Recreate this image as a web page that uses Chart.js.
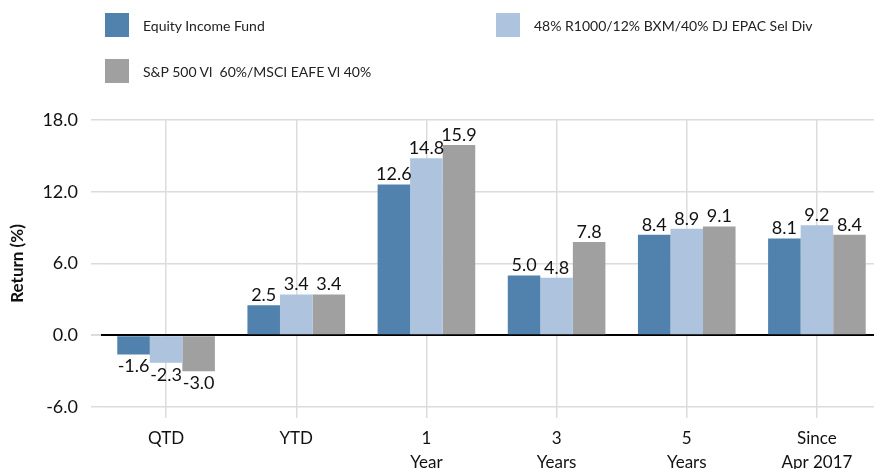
<!DOCTYPE html>
<html>
<head>
<meta charset="utf-8">
<script src="https://cdn.jsdelivr.net/npm/chart.js@4/dist/chart.umd.min.js"></script>
<style>
  body { margin: 0; overflow: hidden; background: #fff; }
  #wrap { position: relative; width: 874px; height: 469px; overflow: hidden; }
  #returnsChart { position: absolute; left: 0; top: 0; }
  .legend-item { position: absolute; display: flex; align-items: center; font-family: Lato, sans-serif; font-size: 14px; color: #222; white-space: pre; }
  .legend-item span.box { display: inline-block; width: 24px; height: 24px; margin-right: 14px; }
</style>
</head>
<body>
<div id="wrap">
  <canvas id="returnsChart" width="882" height="469"></canvas>
  <div id="legend"></div>
</div>
<script>
const periods = [['QTD'], ['YTD'], ['1', 'Year'], ['3', 'Years'], ['5', 'Years'], ['Since', 'Apr 2017']];
const seriesNames = ['Equity Income Fund', '48% R1000/12% BXM/40% DJ EPAC Sel Div', 'S&P 500 Vl  60%/MSCI EAFE Vl 40%'];
const fundReturns = [-1.6, 2.5, 12.6, 5.0, 8.4, 8.1];
const blendReturns = [-2.3, 3.4, 14.8, 4.8, 8.9, 9.2];
const valueReturns = [-3.0, 3.4, 15.9, 7.8, 9.1, 8.4];
const seriesColors = ['#5181ad', '#adc3de', '#a0a0a0'];
const yTicks = [-6, 0, 6, 12, 18];

const FONT = 'Lato, sans-serif';

// value labels above (or below, for negatives) each bar
const valueLabels = {
  id: 'valueLabels',
  afterDatasetsDraw(chart) {
    const ctx = chart.ctx;
    ctx.save();
    ctx.font = '18px ' + FONT;
    ctx.fillStyle = '#111';
    ctx.textAlign = 'center';
    chart.data.datasets.forEach((ds, i) => {
      chart.getDatasetMeta(i).data.forEach((bar, j) => {
        const v = ds.data[j];
        if (v < 0) {
          ctx.textBaseline = 'top';
          ctx.fillText(v.toFixed(1), bar.x, bar.y + 3);
        } else {
          ctx.textBaseline = 'bottom';
          ctx.fillText(v.toFixed(1), bar.x, bar.y - 1);
        }
      });
    });
    ctx.restore();
  }
};

const chart = new Chart(document.getElementById('returnsChart').getContext('2d'), {
  type: 'bar',
  data: {
    labels: periods,
    datasets: [
      { label: seriesNames[0], data: fundReturns, backgroundColor: seriesColors[0] },
      { label: seriesNames[1], data: blendReturns, backgroundColor: seriesColors[1] },
      { label: seriesNames[2], data: valueReturns, backgroundColor: seriesColors[2] }
    ]
  },
  options: {
    responsive: false,
    animation: false,
    layout: { padding: { top: 120, right: 0, bottom: 0, left: 0 } },
    datasets: { bar: { barPercentage: 1, categoryPercentage: 0.75 } },
    plugins: { legend: { display: false }, tooltip: { enabled: false } },
    scales: {
      x: {
        grid: { offset: false, color: '#dcdcdc', lineWidth: 1.5, tickLength: 11 },
        border: { display: false },
        ticks: { color: '#111', padding: 8, font: { family: FONT, size: 17, lineHeight: 1.42 }, maxRotation: 0 },
        afterFit(axis) { axis.height = 62; }
      },
      y: {
        min: -6,
        max: 18,
        afterBuildTicks(axis) { axis.ticks = yTicks.map(v => ({ value: v })); },
        grid: {
          color: c => c.tick && c.tick.value === 0 ? '#000' : '#dcdcdc',
          lineWidth: c => c.tick && c.tick.value === 0 ? 2 : 1.5,
          tickColor: '#dcdcdc',
          tickLength: 10
        },
        border: { display: false },
        ticks: { color: '#111', padding: 13, font: { family: FONT, size: 18 }, callback: v => v.toFixed(1) },
        title: { display: true, text: 'Return (%)', color: '#111', padding: { top: 7, bottom: 0 }, font: { family: FONT, size: 17, weight: 'bold' } },
        afterFit(axis) { axis.width = 101; }
      }
    }
  },
  plugins: [valueLabels]
});

// legend laid out in two columns above the plot
const legendSpots = [[105, 13], [496, 13], [105, 59]];
const legendEl = document.getElementById('legend');
chart.data.datasets.forEach((ds, i) => {
  const item = document.createElement('div');
  item.className = 'legend-item';
  item.style.left = legendSpots[i][0] + 'px';
  item.style.top = legendSpots[i][1] + 'px';
  item.innerHTML = '<span class="box" style="background:' + ds.backgroundColor + '"></span>';
  item.appendChild(document.createTextNode(ds.label));
  legendEl.appendChild(item);
});
</script>
</body>
</html>
